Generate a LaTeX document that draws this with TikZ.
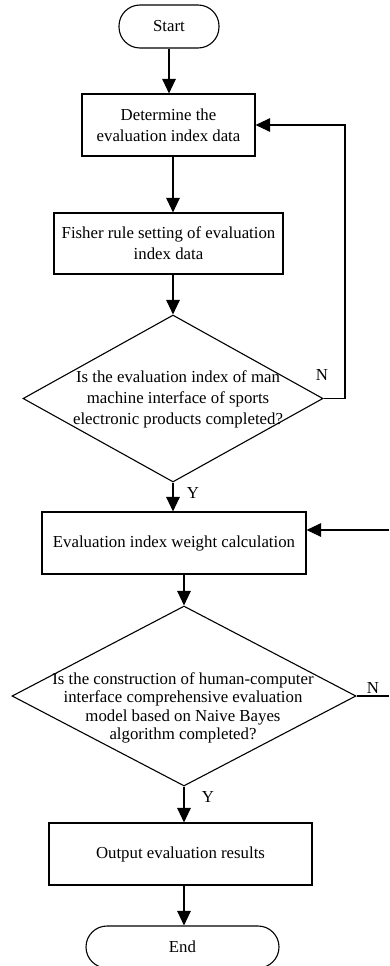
\documentclass[tikz,border=0pt]{standalone}
\usepackage{fontspec}
\setmainfont{Liberation Serif}
\usetikzlibrary{arrows.meta,shapes.geometric}
\begin{document}
\begin{tikzpicture}[x=1pt,y=-1pt,
  every node/.style={font=\fontsize{16.8}{21}\selectfont},
  box/.style={draw, line width=1.1pt, inner sep=0pt, align=center},
  term/.style={draw, line width=1.1pt, rounded corners=21pt, inner sep=0pt},
  dia/.style={draw, diamond, line width=1.1pt, inner sep=0pt},
  lbl/.style={inner sep=0pt},
  arr/.style={line width=1.1pt, -{Triangle[width=13.5pt,length=14.5pt]}},
  ln/.style={line width=1.1pt}]
\useasboundingbox (0,0) rectangle (389,966);
\node[term, minimum width=100pt, minimum height=43pt] (start) at (169,26.5) {Start};
\node[box, minimum width=173pt, minimum height=62pt] (b1) at (168.5,125) {Determine the\\evaluation index data};
\node[box, minimum width=229pt, minimum height=61pt] (b2) at (168.5,243.5) {Fisher rule setting of evaluation\\index data};
\node[dia, minimum width=300pt, minimum height=167pt] (d1) at (173,398.5) {};
\node[lbl, align=center] (t1) at (178,399) {Is the evaluation index of man\\machine interface of sports\\electronic products completed?};
\node[box, minimum width=264pt, minimum height=62pt] (b3) at (174,543) {Evaluation index weight calculation};
\node[dia, minimum width=344pt, minimum height=180pt] (d2) at (184,696) {};
\node[lbl, align=center, font=\fontsize{16.8}{18.5}\selectfont] (t2) at (183,708) {Is the construction of human-computer\\interface comprehensive evaluation\\model based on Naive Bayes\\algorithm completed?};
\node[box, minimum width=263pt, minimum height=62pt] (b4) at (180.5,854) {Output evaluation results};
\node[term, minimum width=193pt, minimum height=42pt] (end) at (182.5,947) {End};
\node[lbl] (n1) at (322,375) {N};
\node[lbl] (y1) at (193,493) {Y};
\node[lbl] (n2) at (373,688) {N};
\node[lbl] (y2) at (208,797) {Y};
\coordinate (r1) at (345,398.5);
\coordinate (in3) at (389,530);
\coordinate (out2) at (389,696);
\draw[arr] (start.south) -- (start.south |- b1.north);
\draw[arr] (d1.north |- b1.south) -- (d1.north |- b2.north);
\draw[arr] (d1.north |- b2.south) -- (d1.north);
\draw[arr] (d1.south) -- (d1.south |- b3.north);
\draw[arr] (d2.north |- b3.south) -- (d2.north);
\draw[arr] (d2.south) -- (d2.south |- b4.north);
\draw[arr] (d2.south |- b4.south) -- (d2.south |- end.north);
\draw[arr] (d1.east) -- (r1) |- (b1.east);
\draw[arr] (in3) -- (in3 -| b3.east);
\draw[ln] (d2.east) -- (out2);
\end{tikzpicture}
\end{document}
